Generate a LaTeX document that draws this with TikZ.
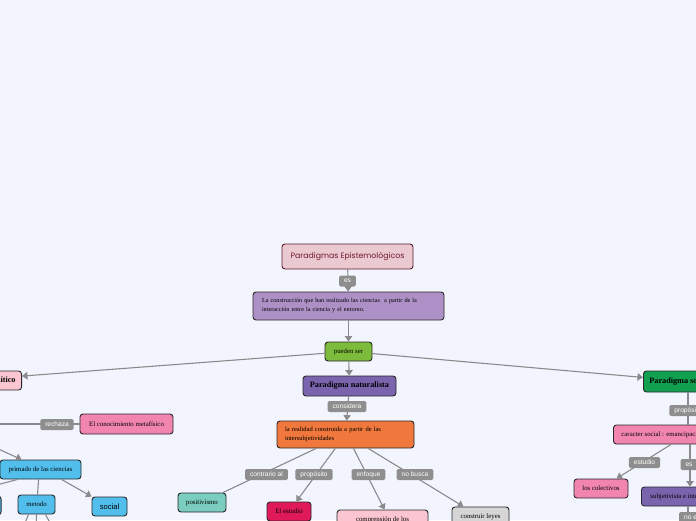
\documentclass[tikz,border=0pt]{standalone}
\usepackage{fontspec}
\setmainfont{Liberation Serif}
\newfontfamily\labelfont{Liberation Sans}
\newfontfamily\titlefont{Poppins}
\usetikzlibrary{arrows.meta}
\definecolor{bg}{RGB}{243,245,254}
\definecolor{boxline}{RGB}{40,40,44}
\definecolor{titlefill}{RGB}{235,201,208}
\definecolor{titleline}{RGB}{90,28,44}
\definecolor{titletext}{RGB}{110,26,46}
\definecolor{lavender}{RGB}{173,145,198}
\definecolor{greenc}{RGB}{124,187,59}
\definecolor{purplec}{RGB}{122,100,174}
\definecolor{orangec}{RGB}{240,120,60}
\definecolor{tealc}{RGB}{122,205,191}
\definecolor{crimsonc}{RGB}{224,26,90}
\definecolor{lightpink}{RGB}{251,198,209}
\definecolor{greyc}{RGB}{214,214,214}
\definecolor{pinkc}{RGB}{242,133,176}
\definecolor{bluec}{RGB}{82,190,236}
\definecolor{darkgreen}{RGB}{16,160,80}
\definecolor{labgrey}{RGB}{142,142,142}
\definecolor{conngrey}{RGB}{138,138,140}
\begin{document}
\begin{tikzpicture}[x=1pt,y=-1pt,
  box/.style={draw=boxline, line width=0.9pt, rounded corners=3pt, inner sep=0pt, align=center,
    font=\fontsize{6.8}{8}\selectfont, text=black},
  boldbox/.style={box, font=\bfseries\fontsize{8.2}{9}\selectfont},
  lab/.style={fill=labgrey, rounded corners=1.5pt, text=white,
    font=\labelfont\fontsize{6.6}{7}\selectfont, inner xsep=5pt, inner ysep=0pt, minimum height=11pt},
  conn/.style={draw=conngrey, line width=1.1pt},
  arr/.style={conn, -{Triangle[width=7.5pt,length=5.5pt]}},
]
\useasboundingbox (0,0) rectangle (696,520);
\fill[bg] (0,0) rectangle (696,520);
\begin{scope}
\clip (0,0) rectangle (696,520);
% ---- nodes
\node[box, fill=titlefill, draw=titleline, minimum width=131, minimum height=25,
  font=\titlefont\fontsize{7.8}{8}\selectfont, text=titletext] (title) at (347.5,256.5) {Paradigmas Epistemológicos};
\node[box, fill=lavender, text width=173, inner xsep=9pt, minimum height=28, align=left,
  font=\fontsize{6.2}{9}\selectfont] (constr) at (348.5,306)
  {La construcción que han realizado las ciencias~ a partir de la\\interacción entre la ciencia y el entorno.};
\node[box, fill=greenc, minimum width=47, minimum height=19] (pueden) at (348.5,351.5) {pueden ser};
\node[boldbox, fill=purplec, minimum width=93, minimum height=20] (natur) at (349.5,386) {Paradigma naturalista};
\node[box, fill=orangec, text width=121, inner xsep=8pt, minimum height=27, align=left,
  font=\fontsize{6.5}{9}\selectfont] (real) at (345.5,434.5)
  {la realidad construida a partir de las\\intersubjetividades};
\node[box, fill=tealc, minimum width=48, minimum height=19] (posit) at (202,502.5) {positivismo};
\node[box, fill=crimsonc, minimum width=44, minimum height=19] (estudio) at (289,511.5) {El estudio};
\node[box, fill=lightpink, minimum width=91, minimum height=20] (compr) at (382.5,520) {comprensión de los};
\node[box, fill=greyc, minimum width=57, minimum height=20] (leyes) at (480.5,517) {construir leyes};
% left
\node[boldbox, fill=lightpink, anchor=east, minimum height=19, inner xsep=6pt] (lhub) at (22,380.5) {Paradigma empírico-analítico};
\node[box, fill=pinkc, minimum width=93, minimum height=20] (metaf) at (126.5,424) {El conocimiento metafísico};
\node[box, fill=bluec, minimum width=81, minimum height=19] (primado) at (40.5,469.5) {primado de las ciencias};
\node[box, fill=bluec, minimum width=37, minimum height=19] (metodo) at (36.5,504.5) {metodo};
\node[box, fill=bluec, minimum width=35, minimum height=19, font=\labelfont\fontsize{7.6}{8}\selectfont] (social) at (109.5,506.5) {social};
\node[box, fill=bluec, anchor=east, minimum width=40, minimum height=19] (lbox) at (1.5,505.5) {};
% right
\node[boldbox, fill=darkgreen, anchor=west, minimum height=21, inner xsep=6pt] (rhub) at (643,381.5) {Paradigma sociocrítico};
\node[box, fill=pinkc, anchor=west, minimum height=19, inner xsep=8pt] (caracter) at (613,434.5) {caracter social : emancipación};
\node[box, fill=pinkc, minimum width=54, minimum height=19] (colect) at (601,488.5) {los colectivos};
\node[box, fill=purplec, anchor=west, minimum height=19, inner xsep=9pt] (subj) at (641,496.5) {subjetivista e intersubjetiva};
% free ends
\coordinate (lsrcA) at (-60,424);
\coordinate (lsrcB) at (-40,431.6);
\coordinate (pleft) at (-30,492);
\coordinate (mA) at (16,545);
\coordinate (mB) at (36,545);
\coordinate (mC) at (62,545);
\coordinate (subjdown) at (688,545);
% ---- connectors
\draw[arr] (title) -- (constr);
\draw[arr] (constr) -- (pueden);
\draw[arr] (pueden) -- (natur);
\draw[arr] (natur) -- (real);
\draw[arr] (pueden) -- (lhub);
\draw[arr] (pueden) -- (rhub);
\draw[conn] (real) -- (posit);
\draw[arr] (real) -- (estudio);
\draw[arr] ([xshift=8pt]real.south) -- ([xshift=2pt]compr.north);
\draw[arr] (real) -- (leyes);
\draw[conn] (lsrcA) -- (metaf);
\draw[arr] (lsrcB) -- ([xshift=22pt]primado.north west);
\draw[conn] ([xshift=18pt]primado.south west) -- (pleft);
\draw[conn] ([xshift=39pt]primado.south west) -- ([xshift=20pt]metodo.north west);
\draw[arr] ([xshift=62pt]primado.south west) -- (social.north west);
\draw[conn] ([xshift=-8pt]metodo.south) -- (mA);
\draw[conn] (metodo.south) -- (mB);
\draw[conn] ([xshift=9pt]metodo.south) -- (mC);
\draw[conn] ([xshift=45pt]rhub.south west) -- ([xshift=75pt]caracter.north west);
\draw[arr] ([xshift=58pt]caracter.south west) -- ([xshift=43pt]colect.north west);
\draw[arr] ([xshift=77pt]caracter.south west) -- ([xshift=49pt]subj.north west);
\draw[conn] ([xshift=47pt]subj.south west) -- (subjdown);
% ---- labels
\node[lab] (l1) at (347.5,281) {es};
\node[lab] (l2) at (347,406.5) {considera};
\node[lab] (l3) at (266.5,474.5) {contrario al};
\node[lab] (l4) at (314,474.5) {propósito};
\node[lab] (l5) at (368.5,474.5) {enfoque};
\node[lab] (l6) at (415,474.5) {no busca};
\node[lab] (l7) at (57,424.5) {rechaza};
\node[lab] (l8) at (688,410.5) {propósito};
\node[lab] (l9) at (644.5,462.5) {estudio};
\node[lab] (l10) at (689,464.5) {es};
\node[lab, anchor=west] (l11) at (679,517.5) {no es};
\end{scope}
\end{tikzpicture}
\end{document}
